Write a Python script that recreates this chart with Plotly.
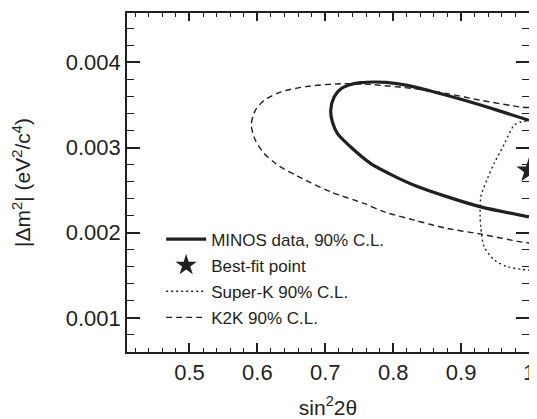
import plotly.graph_objects as go

# MINOS 90% C.L. contour (sin^2 2theta, |dm^2|)
minos_x = [1.0, 0.954, 0.905, 0.855, 0.821, 0.790, 0.772, 0.752, 0.735, 0.723, 0.713,
           0.708, 0.7105, 0.718, 0.7375, 0.767, 0.794, 0.831, 0.880, 0.929, 1.0]
minos_y = [0.00332, 0.003437, 0.003555, 0.003664, 0.00373, 0.003765, 0.00377, 0.003762,
           0.003735, 0.00369, 0.003594, 0.003437, 0.0033, 0.003164, 0.003007, 0.002812,
           0.002695, 0.002558, 0.002421, 0.002304, 0.002187]

# Super-K 90% C.L.
superk_x = [0.996, 0.988, 0.978, 0.964, 0.949, 0.939, 0.932, 0.929, 0.928, 0.929,
            0.934, 0.949, 0.969, 0.990, 1.0]
superk_y = [0.00331, 0.0033, 0.003262, 0.003047, 0.00282, 0.00264, 0.0025, 0.002421,
            0.0022, 0.002069, 0.001835, 0.00168, 0.0016, 0.00157, 0.00156]

# K2K 90% C.L.
k2k_x = [1.0, 0.988, 0.929, 0.880, 0.831, 0.782, 0.767, 0.723, 0.674, 0.634, 0.610,
         0.597, 0.591, 0.597, 0.610, 0.624, 0.634, 0.659, 0.708, 0.757, 0.787, 0.831,
         0.880, 0.929, 0.988, 1.0]
k2k_y = [0.00347, 0.003476, 0.003555, 0.003633, 0.003692, 0.00373, 0.003742, 0.00375,
         0.003719, 0.003652, 0.003555, 0.003437, 0.00327, 0.003086, 0.00293, 0.002831,
         0.002773, 0.002665, 0.00248, 0.002344, 0.002245, 0.002148, 0.00205, 0.001984,
         0.001893, 0.00188]

best_x = [1.0]
best_y = [0.00273]

x_ticks = [0.5, 0.6, 0.7, 0.8, 0.9, 1.0]
x_ticktext = ["0.5", "0.6", "0.7", "0.8", "0.9", "1"]
y_ticks = [0.001, 0.002, 0.003, 0.004]
y_ticktext = ["0.001", "0.002", "0.003", "0.004"]
x_range = [0.408, 1.0]
y_range = [0.0006, 0.00458]

ink = "#231f20"
font = "Liberation Sans, Arial, sans-serif"

fig = go.Figure()
fig.add_trace(go.Scatter(x=minos_x, y=minos_y, mode="lines", name="MINOS data, 90% C.L.",
                         line=dict(color=ink, width=3.2, shape="spline", smoothing=0.8),
                         legendgroup="a"))
fig.add_trace(go.Scatter(x=best_x, y=best_y, mode="markers", name="Best-fit point",
                         marker=dict(symbol="star", size=19, color=ink), cliponaxis=False,
                         legendgroup="b"))
fig.add_trace(go.Scatter(x=superk_x, y=superk_y, mode="lines", name="Super-K 90% C.L.",
                         line=dict(color=ink, width=1.4, dash="2px,3px", shape="spline", smoothing=0.8),
                         legendgroup="c"))
fig.add_trace(go.Scatter(x=k2k_x, y=k2k_y, mode="lines", name="K2K 90% C.L.",
                         line=dict(color=ink, width=1.4, dash="6px,4px", shape="spline", smoothing=0.8),
                         legendgroup="d"))
# empty trace so the top/right tick axes get drawn
fig.add_trace(go.Scatter(x=[], y=[], xaxis="x2", yaxis="y2", showlegend=False, hoverinfo="skip"))

# the page body keeps its 8px margin, so the figure is 8px smaller than the window
fig.update_layout(
    width=529, height=411,
    margin=dict(l=119, r=8, t=5, b=67),
    plot_bgcolor="white", paper_bgcolor="white",
    font=dict(family=font, size=22, color=ink),
    legend=dict(x=0.085, y=0.385, xanchor="left", yanchor="top",
                font=dict(size=17), bgcolor="rgba(0,0,0,0)",
                tracegroupgap=1, itemwidth=40),
)

common = dict(ticks="inside", tickwidth=1.5, tickcolor=ink, showgrid=False, zeroline=False,
              automargin=False)
x_minor = dict(ticks="inside", ticklen=4, dtick=0.02, tick0=0, tickcolor=ink, tickwidth=1.2)
y_minor = dict(ticks="inside", ticklen=7, dtick=0.0002, tick0=0, tickcolor=ink, tickwidth=1.2)

fig.update_layout(
    xaxis=dict(range=x_range, tickvals=x_ticks, ticktext=x_ticktext, ticklen=9, minor=x_minor,
               showline=True, linecolor=ink, linewidth=1.6, mirror=True,
               title=dict(text="sin<sup>2</sup>2θ", standoff=16, font=dict(size=21)), **common),
    yaxis=dict(range=y_range, tickvals=y_ticks, ticktext=y_ticktext, ticklen=13, minor=y_minor,
               showline=True, linecolor=ink, linewidth=1.6, mirror=True,
               title=dict(text="|Δm<sup>2</sup>| (eV<sup>2</sup>/c<sup>4</sup>)", standoff=29,
                          font=dict(size=21)), **common),
    xaxis2=dict(range=x_range, overlaying="x", side="top", anchor="y2", tickvals=x_ticks,
                showticklabels=False, ticklen=8, minor=x_minor, **common),
    yaxis2=dict(range=y_range, overlaying="y", side="right", anchor="x2", tickvals=y_ticks,
                showticklabels=False, ticklen=13, minor=y_minor, **common),
)

fig.write_html("out.html", config={"displayModeBar": False})
